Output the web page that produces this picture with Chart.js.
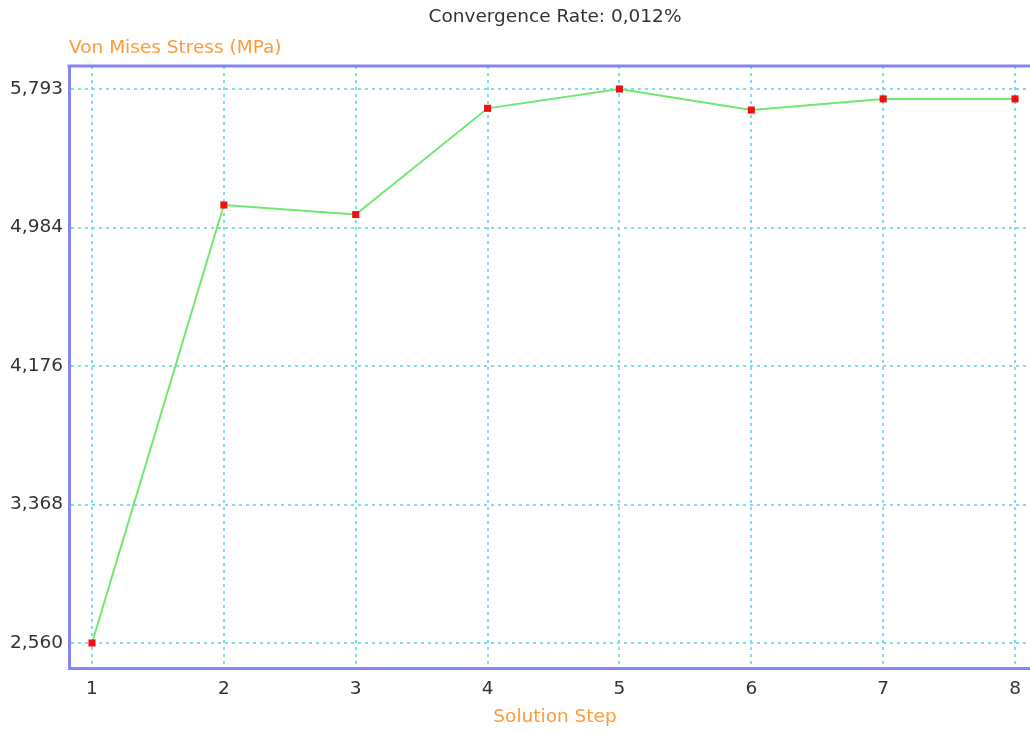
<!DOCTYPE html>
<html lang="en">
<head>
  <meta charset="UTF-8" />
  <title>Convergence Rate</title>
  <script src="https://cdn.jsdelivr.net/npm/chart.js"></script>
  <style>
    html, body { margin: 0; padding: 0; background: #fff; overflow: hidden; }
    #wrap { width: 1046px; height: 731px; }
  </style>
</head>
<body>
  <div id="wrap"><canvas id="chart"></canvas></div>
  <script>
    // values
    const steps = [1, 2, 3, 4, 5, 6, 7, 8];
    const stress = [2560, 5116, 5060, 5680, 5793, 5670, 5735, 5735];
    const yTicks = [2560, 3368, 4176, 4984, 5793];

    const titleText = 'Convergence Rate: 0,012%';
    const yTitle = 'Von Mises Stress (MPa)';
    const xTitle = 'Solution Step';

    const FONT = 'DejaVu Sans';
    const SIZE = 18.5;
    const orange = '#ff9a3c';
    const frame = '#8585f5';
    const gridColor = '#80dce8';

    // top edge of the plot frame (left/bottom come from the axes)
    const frameTop = {
      id: 'frameTop',
      afterDatasetsDraw(chart) {
        const { ctx, chartArea: a } = chart;
        ctx.save();
        ctx.strokeStyle = frame;
        ctx.lineWidth = 3;
        ctx.beginPath();
        ctx.moveTo(a.left - 1.5, a.top);
        ctx.lineTo(a.right, a.top);
        ctx.stroke();
        ctx.restore();
      }
    };

    new Chart(document.getElementById('chart'), {
      type: 'line',
      data: {
        datasets: [{
          data: steps.map((s, i) => ({ x: s, y: stress[i] })),
          borderColor: '#6ee86e',
          borderWidth: 2,
          pointStyle: 'rect',
          pointRadius: 5,
          pointBackgroundColor: '#ee1111',
          pointBorderColor: '#ee1111',
          pointBorderWidth: 0,
          tension: 0
        }]
      },
      options: {
        responsive: true,
        maintainAspectRatio: false,
        animation: false,
        layout: { padding: { top: 4, left: 0, right: 0, bottom: 0 } },
        plugins: {
          legend: { display: false },
          tooltip: { enabled: false },
          title: {
            display: true, text: titleText, fullSize: false,
            color: '#333', font: { family: FONT, size: SIZE, weight: 'normal' },
            padding: { top: 1.9, bottom: 0 }
          },
          subtitle: {
            display: true, text: yTitle, fullSize: false, align: 'start',
            color: orange, font: { family: FONT, size: SIZE, weight: 'normal' },
            padding: { top: 8.8, bottom: 6.9 }
          }
        },
        scales: {
          x: {
            type: 'linear',
            min: 0.8256, max: 8.197,
            afterBuildTicks: s => { s.ticks = steps.map(v => ({ value: v })); },
            afterFit: s => { s.height = 63; },
            ticks: { color: '#333', font: { family: FONT, size: SIZE }, padding: 10.5 },
            grid: { color: gridColor, lineWidth: 2, drawTicks: false },
            border: { color: frame, width: 3, dash: [3, 4] },
            title: {
              display: true, text: xTitle, color: orange,
              font: { family: FONT, size: SIZE }, padding: { top: 4, bottom: 2.9 }
            }
          },
          y: {
            min: 2414, max: 5927,
            afterBuildTicks: s => { s.ticks = yTicks.map(v => ({ value: v })); },
            afterFit: s => { s.width = 69; },
            ticks: {
              color: '#333', font: { family: FONT, size: SIZE }, padding: 6,
              callback: v => v.toLocaleString('en-US')
            },
            grid: { color: gridColor, lineWidth: 2, drawTicks: false },
            border: { color: frame, width: 3, dash: [3, 4] }
          }
        }
      },
      plugins: [frameTop]
    });
  </script>
</body>
</html>
